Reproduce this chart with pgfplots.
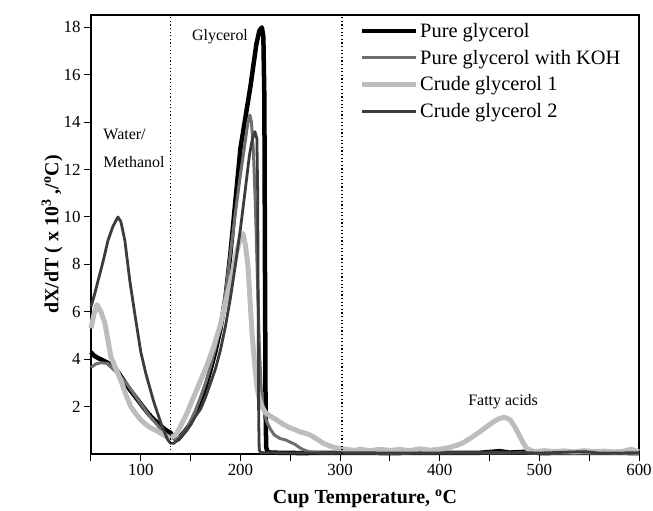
\documentclass[border=0pt]{standalone}
\usepackage{fontspec}
\setmainfont{Liberation Serif}
\usepackage{pgfplots}
\pgfplotsset{compat=1.18}
\definecolor{kohgray}{HTML}{6E6E6E}
\definecolor{lightg}{HTML}{BDBDBD}
\definecolor{darkg}{HTML}{3C3C3C}
\begin{document}
\begin{tikzpicture}
\begin{axis}[
  scale only axis, width=548bp, height=439bp,
  xmin=50, xmax=600, ymin=0, ymax=18.52,
  axis line style={line width=1.2bp},
  xtick={100,200,...,600}, minor xtick={50,150,250,350,450,550},
  ytick={2,4,...,18},
  xtick pos=bottom, ytick pos=left, tick align=outside,
  major tick length=7bp, minor tick length=7bp,
  every tick/.style={line width=1bp, black},
  tick label style={font=\fontsize{17}{17}\selectfont},
  /pgf/number format/assume math mode=true,
  xlabel={\bfseries Cup Temperature, \textsuperscript{o}C},
  ylabel={\bfseries dX/dT ( x 10\textsuperscript{3} ,/\textsuperscript{o}C)},
  label style={font=\fontsize{20}{20}\selectfont},
  xlabel style={yshift=-7bp},
  ylabel style={yshift=-6bp},
  clip=false,
  legend cell align=left,
  legend style={draw=none, fill=none, at={(rel axis cs:0.49,0.985)}, anchor=north west,
    font=\fontsize{20.5}{20.5}\selectfont, row sep=8bp, inner sep=0pt,
    nodes={inner sep=1.5bp}},
  legend image code/.code={\draw[#1] (0bp,0bp) -- (54bp,0bp);},
]
% Pure glycerol
\addplot[black, line width=4.5bp, line join=round] coordinates {
(50,4.3)(53,4.15)(57,4.05)(62,3.95)(67,3.84)(72,3.65)(77,3.46)(82,3.15)(87,2.83)(92,2.55)(97,2.28)(102,2.0)(107,1.73)(112,1.5)(117,1.31)(121,1.15)(125,1.01)(130,0.89)(134,0.65)(137,0.6)(140,0.75)(145,1.0)(150,1.3)(155,1.75)(160,2.25)(165,2.85)(170,3.55)(175,4.35)(180,5.3)(185,6.6)(190,8.5)(195,10.7)(200,12.9)(205,14.2)(210,15.5)(216,17.3)(219,17.85)(221.5,18.0)(223,17.6)(224,15)(224.6,8)(225.2,2)(225.8,0.3)(227,0.1)(230,0.06)(240,0.05)(260,0.04)(300,0.05)(350,0.04)(400,0.05)(440,0.05)(460,0.12)(470,0.06)(490,0.1)(500,0.04)(550,0.05)(600,0.04)};
\addlegendentry{Pure glycerol}
% Pure glycerol with KOH
\addplot[kohgray, line width=3bp, line join=round] coordinates {
(50,3.65)(55,3.8)(60,3.85)(67,3.82)(72,3.6)(77,3.4)(82,3.15)(87,2.9)(92,2.6)(97,2.3)(102,2.0)(107,1.7)(112,1.45)(117,1.2)(121,1.0)(125,0.85)(130,0.7)(135,0.6)(140,0.75)(145,1.0)(150,1.4)(155,1.85)(160,2.4)(165,3.0)(170,3.7)(175,4.5)(180,5.5)(185,6.8)(190,8.5)(195,10.2)(200,11.8)(204.5,13.1)(207.5,14.0)(209.5,14.3)(211,14.0)(213,12.8)(215,10.5)(217,7.5)(219,4.5)(221,2.6)(223,1.9)(226,1.4)(230,1.05)(234,0.8)(240,0.65)(245,0.6)(250,0.5)(255,0.4)(260,0.25)(265,0.15)(270,0.08)(280,0.05)(350,0.04)(450,0.05)(500,0.04)(600,0.03)};
\addlegendentry{Pure glycerol with KOH}
% Crude glycerol 1
\addplot[lightg, line width=5bp, line join=round] coordinates {
(50,5.3)(53,5.9)(56,6.3)(60,6.0)(64,5.5)(67,4.8)(70,4.1)(75,3.6)(80,3.1)(85,2.5)(90,2.0)(95,1.7)(100,1.43)(105,1.25)(110,1.1)(115,1.0)(119,0.9)(123,0.8)(127,0.7)(130,0.7)(135,0.8)(139,1.1)(145,1.6)(152,2.3)(159,3.0)(166,3.7)(173,4.5)(179.5,5.4)(185,6.4)(189.6,7.2)(193,7.9)(196.6,8.6)(200,9.1)(202.6,9.3)(205,8.8)(207.6,7.9)(209.6,6.5)(211.6,5.1)(214,3.9)(216.7,2.8)(219,2.3)(221.7,2.0)(225,1.75)(230,1.6)(236.7,1.43)(243,1.25)(250,1.1)(255,1.02)(260,0.93)(265,0.88)(270,0.8)(276,0.65)(283,0.46)(290,0.33)(297,0.25)(305,0.2)(315,0.15)(320,0.2)(330,0.14)(340,0.2)(350,0.15)(360,0.19)(370,0.14)(380,0.22)(390,0.16)(400,0.2)(410,0.28)(418,0.38)(423,0.46)(432,0.7)(440,0.93)(447,1.15)(453.6,1.35)(460,1.5)(465,1.55)(470.6,1.45)(476,1.1)(480.7,0.72)(484,0.45)(487.7,0.22)(495,0.1)(505,0.14)(515,0.1)(525,0.13)(535,0.09)(545,0.14)(555,0.1)(565,0.12)(575,0.09)(585,0.12)(592,0.2)(600,0.1)};
\addlegendentry{Crude glycerol 1}
% Crude glycerol 2
\addplot[darkg, line width=2.8bp, line join=round] coordinates {
(50,6.2)(54,6.8)(57,7.3)(62,8.1)(67,9.0)(72,9.6)(77,10.0)(80,9.8)(84,9.0)(89,7.3)(94,5.9)(100,4.3)(105,3.4)(109,2.8)(113,2.2)(117,1.7)(121,1.2)(124,0.9)(127,0.6)(130,0.45)(133,0.45)(136,0.55)(140,0.7)(145,0.95)(150,1.25)(155,1.6)(160,1.9)(165,2.4)(170,3.0)(175,3.6)(180,4.4)(185,5.4)(190,6.6)(195,8.0)(200,9.5)(205,11.2)(209,12.6)(212,13.3)(214.5,13.6)(216.5,13.3)(217.3,11)(217.8,6)(218.3,1.5)(218.8,0.2)(220,0.06)(230,0.05)(260,0.04)(300,0.05)(400,0.04)(460,0.08)(500,0.04)(545,0.1)(560,0.04)(600,0.05)};
\addlegendentry{Crude glycerol 2}
% region separators
\draw[line width=1.4bp, dash pattern=on 1.2bp off 2.4bp] (axis cs:130,0) -- (axis cs:130,18.52);
\draw[line width=1.4bp, dash pattern=on 1.2bp off 2.4bp] (axis cs:302,0) -- (axis cs:302,18.52);
\node[font=\fontsize{16}{16}\selectfont] at (axis cs:179.5,17.6) {Glycerol};
\node[font=\fontsize{16}{16}\selectfont, anchor=west] at (axis cs:59,13.5) {Water/};
\node[font=\fontsize{16}{16}\selectfont, anchor=west] at (axis cs:59,12.3) {Methanol};
\node[font=\fontsize{16}{16}\selectfont] at (axis cs:463.6,2.2) {Fatty acids};
\end{axis}
\pgfresetboundingbox
\path ([shift={(-91bp,-57bp)}]current axis.south west) rectangle ([shift={(14bp,15bp)}]current axis.north east);
\end{tikzpicture}
\end{document}
